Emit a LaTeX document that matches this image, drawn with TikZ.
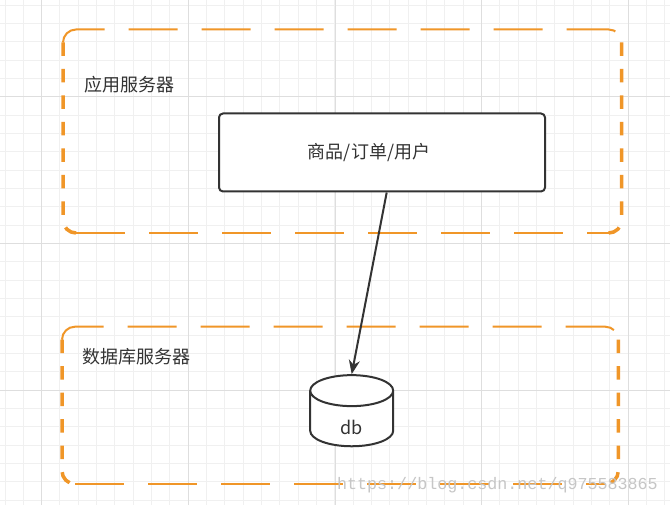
\documentclass[tikz,border=0pt]{standalone}
\usepackage{fontspec}
\setmainfont{Noto Sans CJK SC}
\newfontfamily\markfont{Liberation Mono}
\usetikzlibrary{shapes.geometric,arrows.meta,positioning,calc}

\definecolor{gridminor}{RGB}{240,240,240}
\definecolor{gridmajor}{RGB}{222,222,222}
\definecolor{zoneorange}{RGB}{240,150,40}
\definecolor{inkgray}{RGB}{51,51,51}

\tikzset{
  hdash/.style={zoneorange, line width=2pt, dash pattern=on 49pt off 24pt},
  vdash/.style={zoneorange, line width=3.5pt, dash pattern=on 13.5pt off 13pt},
  zonelabel/.style={anchor=west, inner sep=0pt, text=inkgray, font=\fontsize{18}{20}\selectfont},
  taskbox/.style={draw=inkgray, line width=2pt, rounded corners=4pt, fill=white, minimum width=326pt, minimum height=78pt, text=inkgray, font=\fontsize{18}{20}\selectfont},
  dbstore/.style={cylinder, shape border rotate=90, aspect=1.07, draw=inkgray, line width=2pt, fill=white, minimum width=83pt, minimum height=63pt, inner ysep=2pt, text height=25.5pt, text=inkgray, font=\fontsize{18}{20}\selectfont}
}

\newcommand{\zonebox}[2]{%
  \draw[hdash] ($(#1|-#2)+(0,-13pt)$) arc[start angle=180, end angle=90, radius=13pt] -- ($(#2)+(-13pt,0)$) arc[start angle=90, end angle=0, radius=13pt];
  \draw[vdash] ($(#1|-#2)+(0,-13pt)$) -- ($(#1)+(0,13pt)$) arc[start angle=180, end angle=270, radius=13pt];
  \draw[vdash] ($(#2)+(0,-13pt)$) -- ($(#2|-#1)+(0,13pt)$) arc[start angle=0, end angle=-90, radius=13pt];
  \draw[hdash] ($(#1)+(13pt,0)$) -- ($(#2|-#1)+(-13pt,0)$);
}

\begin{document}
\begin{tikzpicture}[x=1pt, y=1pt]
    \useasboundingbox (0,0) rectangle (670,505);
    \fill[white] (0,0) rectangle (670,505);

    \foreach \k in {0,...,36} {
        \pgfmathsetmacro\gx{5+18.333*\k}
        \draw[gridminor, line width=1pt] (\gx,0) -- (\gx,505);
    }
    \foreach \k in {0,...,27} {
        \pgfmathsetmacro\gy{499.67-18.333*\k}
        \draw[gridminor, line width=1pt] (0,\gy) -- (670,\gy);
    }
    \foreach \gx in {41.7,188.3,335,481.7,628.3}
        \draw[gridmajor, line width=1pt] (\gx,0) -- (\gx,505);
    \foreach \gy in {408,261.3,114.6}
        \draw[gridmajor, line width=1pt] (0,\gy) -- (670,\gy);

    \coordinate (appSW) at (63,272);
    \coordinate (appNE) at (621.7,475.5);
    \coordinate (dbSW) at (62,21);
    \coordinate (dbNE) at (618.3,178.3);
    \zonebox{appSW}{appNE}
    \zonebox{dbSW}{dbNE}

    \node [zonelabel] (appname) at (84,420) {应用服务器};
    \node [zonelabel] (dbname) at (82,148.3) {数据库服务器};

    \node [taskbox] (svc) at (382,352.5) {商品/订单/用户\hspace*{26pt}};
    \node [dbstore] (db) at (351.7,83) {db};

    \draw [-{Stealth[length=14pt, width=11pt]}, line width=2pt, inkgray] ([xshift=4.7pt]svc.south) -- (db.north);

    \node [font=\markfont\fontsize{16.7}{18}\selectfont, text=gray!45, anchor=east, inner sep=0pt] (mark) at (658,20) {https://blog.csdn.net/q975583865};
\end{tikzpicture}
\end{document}
